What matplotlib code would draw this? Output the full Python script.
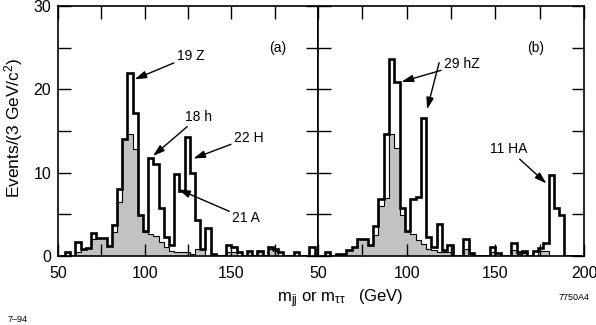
import matplotlib
matplotlib.use("Agg")
import matplotlib.pyplot as plt
import numpy as np

plt.rcParams['font.family'] = ['Liberation Sans', 'DejaVu Sans']
plt.rcParams['mathtext.fontset'] = 'custom'
plt.rcParams['mathtext.rm'] = 'Liberation Sans'
plt.rcParams['mathtext.it'] = 'Liberation Sans:italic'

# 3 GeV bins, lower edge 51 GeV
bin_lo = 51
bin_w = 3
n_bins = 49

# panel (a): total (signal + background) and background only
total_a = [0, 0.5, 0, 1.7, 0.8, 1.0, 2.8, 2.2, 2.2, 1.2,
           3.7, 8.1, 14.1, 22.0, 17.1, 4.9, 3.0, 11.8, 11.0, 5.8,
           2.3, 1.3, 9.8, 7.8, 14.3, 10.0, 4.3, 0.9, 3.4, 0.3,
           0, 0, 1.3, 1.1, 0.5, 0, 0.6, 0, 0.6, 0,
           1.1, 0.9, 0.5, 0, 0, 0.5, 0, 0, 1.1]
bkg_a = [0, 0, 0, 0.5, 0.8, 1.0, 2.1, 2.2, 2.2, 1.2,
         2.9, 6.5, 14.1, 14.7, 12.8, 4.9, 2.9, 2.6, 2.4, 1.7,
         1.1, 0.6, 0.5, 0.5, 0.5, 0.3, 0.8, 0.8, 0, 0,
         0, 0, 0.5, 0.5, 0, 0, 0.6, 0, 0.6, 0,
         0.9, 0.6, 0, 0, 0, 0, 0, 0, 0]

# panel (b)
total_b = [0, 0.5, 0, 0.3, 0.3, 0.7, 1.1, 2.0, 2.0, 1.3,
           3.6, 6.8, 14.7, 23.6, 20.9, 5.8, 3.0, 6.8, 7.1, 16.6,
           2.3, 1.1, 3.8, 0.7, 1.3, 0, 0, 2.0, 0.4, 0,
           0, 0, 1.1, 0.4, 0, 0, 1.6, 0.5, 0.6, 0,
           0.6, 1.0, 1.6, 9.7, 5.8, 4.9, 0, 0, 0]
bkg_b = [0, 0, 0, 0.3, 0.3, 0.7, 1.1, 2.0, 2.0, 1.3,
         2.5, 6.0, 7.0, 14.7, 13.0, 4.9, 3.0, 2.7, 1.9, 1.5,
         0.9, 0.7, 0.5, 0.5, 0.5, 0, 0, 0.9, 0.3, 0,
         0, 0, 0.5, 0, 0, 0, 0.7, 0.3, 0.4, 0,
         0, 0.6, 0.6, 0, 0, 0, 0, 0, 0]

edges = bin_lo + bin_w * np.arange(n_bins + 1)

fig = plt.figure(figsize=(5.96, 3.25), dpi=100)
W, H = 596, 325
bottom, top = 256, 6
axa = fig.add_axes([58 / W, 1 - bottom / H, 260 / W, (bottom - top) / H])
axb = fig.add_axes([318 / W, 1 - bottom / H, 266 / W, (bottom - top) / H])

for ax, tot, bkg in [(axa, total_a, bkg_a), (axb, total_b, bkg_b)]:
    ax.stairs(bkg, edges, fill=True, facecolor='#c2c2c2', edgecolor='black', linewidth=0.8)
    ax.stairs(tot, edges, color='black', linewidth=1.9)
    ax.set_xlim(50, 200)
    ax.set_ylim(0, 30)
    ax.set_yticks([0, 10, 20, 30])
    ax.set_yticks([5, 15, 25], minor=True)
    ax.tick_params(which='both', direction='in', top=True, right=True,
                   length=9, width=1, labelsize=11.5)
    ax.tick_params(axis='x', pad=7)
    ax.tick_params(axis='y', pad=5)
    for s in ax.spines.values():
        s.set_linewidth(1.2)

axa.set_xticks([50, 100, 150])
axa.set_xticks([75, 125, 175], minor=True)
axb.set_xticks([50, 100, 150, 200])
axb.set_xticks([75, 125, 175], minor=True)
axb.tick_params(labelleft=False)

arrow = dict(arrowstyle='-|>,head_length=0.7,head_width=0.22', color='black', lw=1,
             shrinkA=0, shrinkB=0)
fs = 10

axa.text(177, 25, '(a)', fontsize=fs, ha='center', va='center')
axa.annotate('19 Z', xy=(94.2, 21.2), xytext=(118.4, 24), fontsize=fs,
             va='center', arrowprops=arrow)
axa.annotate('18 h', xy=(104.8, 12), xytext=(123.3, 16.7), fontsize=fs,
             va='center', arrowprops=arrow)
axa.annotate('22 H', xy=(128.1, 11.7), xytext=(151.4, 14.2), fontsize=fs,
             va='center', arrowprops=arrow)
axa.annotate('21 A', xy=(119.4, 8.0), xytext=(150.4, 4.5), fontsize=fs,
             va='center', arrowprops=arrow)

axb.text(173, 25, '(b)', fontsize=fs, ha='center', va='center')
axb.annotate('29 hZ', xy=(97.1, 20.9), xytext=(121, 23), fontsize=fs,
             va='center', arrowprops=arrow)
axb.annotate('', xy=(111.5, 17.6), xytext=(118.3, 23.2), arrowprops=arrow)
axb.annotate('11 HA', xy=(178.8, 8.7), xytext=(157.7, 12.8), fontsize=fs,
             ha='center', va='center', arrowprops=arrow)

fig.text(14 / W, 1 - 128 / H, 'Events/(3 GeV/c$^2$)', rotation=90,
         fontsize=12.5, ha='center', va='center')
fig.text(340 / W, 1 - 299 / H, 'm$_{\\mathrm{jj}}$ or m$_{\\mathrm{ττ}}$   (GeV)',
         fontsize=12, ha='center', va='center')
fig.text(590 / W, 1 - 297 / H, '7750A4', fontsize=6.5, ha='right', va='center')
fig.text(8 / W, 1 - 319 / H, '7–94', fontsize=6.5, ha='left', va='center')

fig.savefig('out.png', dpi=100)
